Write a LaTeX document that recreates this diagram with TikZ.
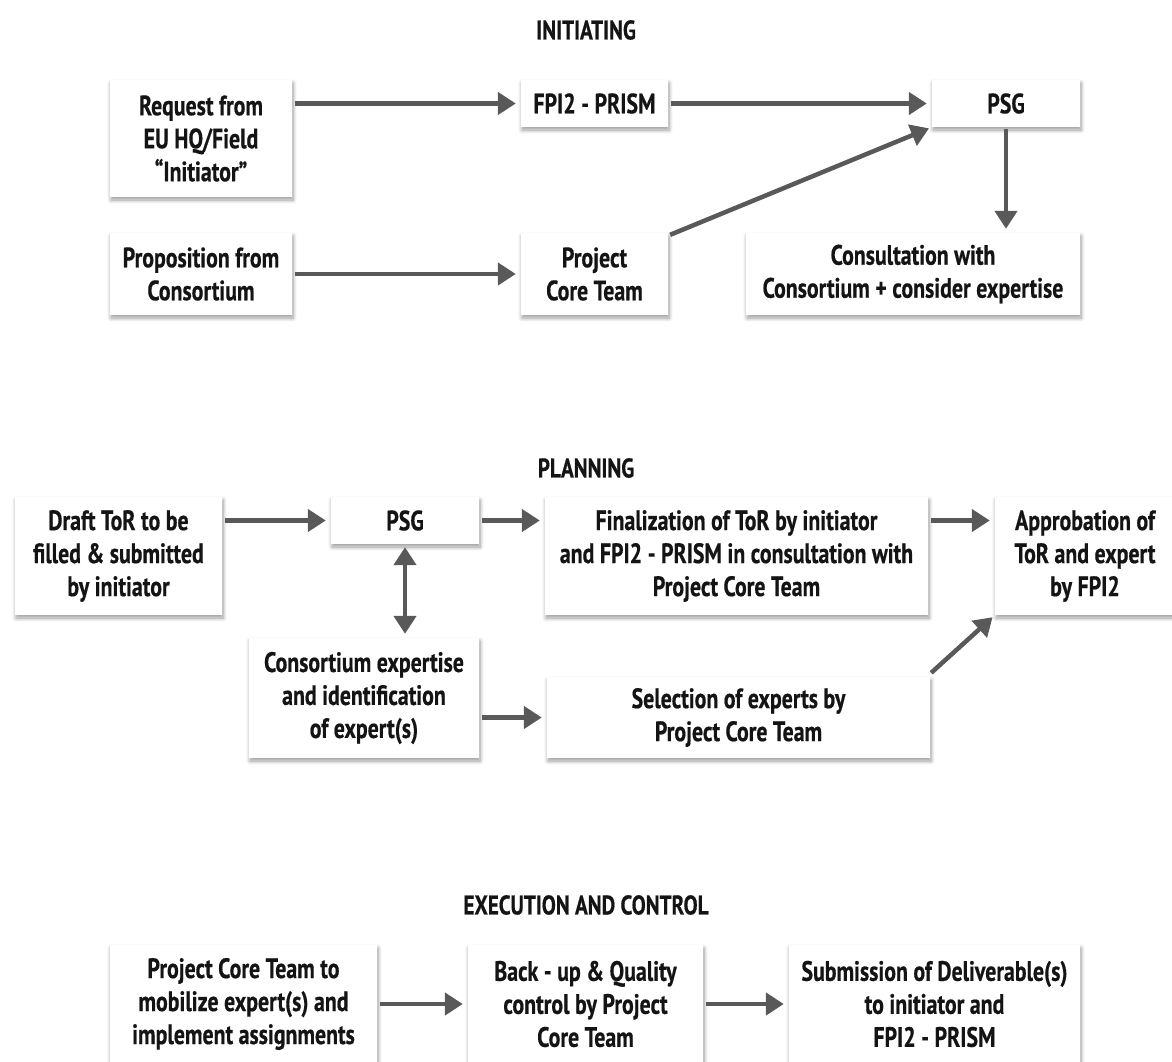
\documentclass[tikz,border=0pt]{standalone}
\usepackage{fontspec}
\setmainfont{PT Sans}[FakeStretch=0.78, BoldFeatures={FakeBold=0.5}]
\usetikzlibrary{arrows.meta,shadows.blur}
\definecolor{arrowgray}{HTML}{595959}
\definecolor{textblack}{HTML}{141414}
\begin{document}
\begin{tikzpicture}[x=1pt,y=-1pt,
  bx/.style={fill=white, draw=none, inner sep=0pt, align=center,
    text=textblack, font=\bfseries\fontsize{28}{33}\selectfont,
    blur shadow={shadow xshift=1pt, shadow yshift=-3pt, shadow blur radius=4pt, shadow blur steps=8, shadow opacity=40}},
  ttl/.style={text=textblack, font=\bfseries\fontsize{27}{30}\selectfont},
  arr/.style={draw=arrowgray, line width=4.5pt, -{Triangle[length=18pt,width=22pt]},
    shorten <=3pt, shorten >=5pt},
  darr/.style={draw=arrowgray, line width=4.5pt, {Triangle[length=18pt,width=22pt]}-{Triangle[length=18pt,width=22pt]},
    shorten <=3pt, shorten >=4pt}]
\useasboundingbox (0,0) rectangle (1172,1062);

% titles
\node[ttl] (t1) at (586,30) {INITIATING};
\node[ttl] (t2) at (586,468) {PLANNING};
\node[ttl] (t3) at (586,905) {EXECUTION AND CONTROL};

% initiating
\node[bx, minimum width=182pt, minimum height=117pt] (req) at (201,138.5) {Request from\\EU HQ/Field\\“Initiator”};
\node[bx, minimum width=147pt, minimum height=47pt] (fpi) at (594.5,103.5) {FPI2 - PRISM};
\node[bx, minimum width=148pt, minimum height=47pt] (psga) at (1006,103.5) {PSG};
\node[bx, minimum width=182pt, minimum height=82pt] (prop) at (201,274) {Proposition from\\Consortium};
\node[bx, minimum width=147pt, minimum height=82pt] (pct) at (594.5,274) {Project\\Core Team};
\node[bx, minimum width=334pt, minimum height=82pt] (cons) at (913,274) {Consultation with\\Consortium + consider expertise};

\draw[arr] (req.east |- fpi.west) -- (fpi.west);
\draw[arr] (fpi.east) -- (psga.west);
\draw[arr] (prop.east) -- (pct.west);
\draw[arr, shorten <=0pt, shorten >=3pt] ([xshift=2pt,yshift=-2pt]pct.north east) -- (psga.south west);
\draw[arr, shorten <=2pt, shorten >=4pt] (psga.south) -- (psga.south |- cons.north);

% planning
\node[bx, minimum width=207pt, minimum height=118pt] (draft) at (118.5,556) {Draft ToR to be\\filled \& submitted\\by initiator};
\node[bx, minimum width=148pt, minimum height=47pt] (psgb) at (405,520.5) {PSG};
\node[bx, minimum width=383pt, minimum height=118pt] (fin) at (736.5,556) {Finalization of ToR by initiator\\and FPI2 - PRISM in consultation with\\Project Core Team};
\node[bx, minimum width=180pt, minimum height=118pt] (appr) at (1085,556) {Approbation of\\ToR and expert\\by FPI2};
\node[bx, minimum width=230pt, minimum height=120pt] (cexp) at (364,698) {Consortium expertise\\and identification\\of expert(s)};
\node[bx, minimum width=383pt, minimum height=81pt] (sel) at (738.5,717.5) {Selection of experts by\\Project Core Team};

\draw[arr] (draft.east |- psgb.west) -- (psgb.west);
\draw[arr] (psgb.east) -- (psgb.east -| fin.west);
\draw[arr] (fin.east |- psgb.east) -- (appr.west |- psgb.east);
\draw[darr] (psgb.south) -- (psgb.south |- cexp.north);
\draw[arr] (sel.west -| cexp.east) -- (sel.west);
\draw[arr, shorten <=0pt, shorten >=3pt] ([xshift=1pt,yshift=4pt]sel.north east) -- (appr.south west);

% execution and control
\node[bx, minimum width=267pt, minimum height=118pt] (ba) at (243.5,1004) {Project Core Team to\\mobilize expert(s) and\\implement assignments};
\node[bx, minimum width=235pt, minimum height=118pt] (bb) at (585.5,1004) {Back - up \& Quality\\control by Project\\Core Team};
\node[bx, minimum width=291pt, minimum height=118pt] (bc) at (934.5,1004) {Submission of Deliverable(s)\\to initiator and\\FPI2 - PRISM};

\draw[arr] (ba.east) -- (bb.west);
\draw[arr] (bb.east) -- (bc.west);
\end{tikzpicture}
\end{document}
